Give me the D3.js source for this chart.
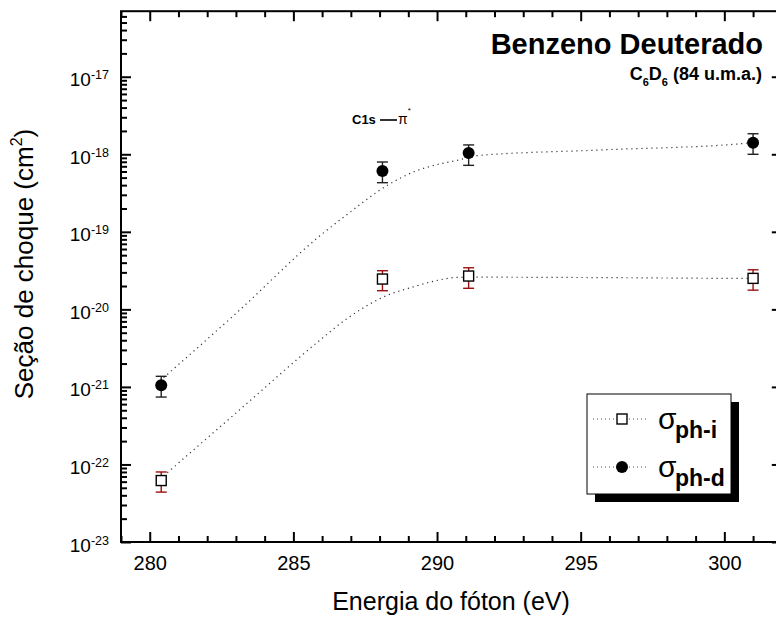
<!DOCTYPE html>
<html>
<head>
<meta charset="utf-8">
<script src="https://cdn.jsdelivr.net/npm/d3@7"></script>
<style>
  body { margin: 0; background: #fff; }
  svg { display: block; font-family: Arial, "Liberation Sans", sans-serif; }
</style>
</head>
<body>
<div id="chart"></div>
<script>
// photon energies (eV) of the measured points
let energy = [280.4, 288.1, 291.1, 301.0];

// sigma ph-d (filled circles) with error bar ends
let phD   = [1.05e-21, 6.1e-19, 1.04e-18, 1.41e-18];
let phDLo = [7.4e-22, 4.3e-19, 7.2e-19, 1.0e-18];
let phDHi = [1.37e-21, 7.95e-19, 1.32e-18, 1.84e-18];

// sigma ph-i (open squares) with error bar ends
let phI   = [6.2e-23, 2.46e-20, 2.69e-20, 2.51e-20];
let phILo = [4.4e-23, 1.74e-20, 1.87e-20, 1.77e-20];
let phIHi = [8.0e-23, 3.15e-20, 3.44e-20, 3.24e-20];

// dotted fit curves
let fitX = [280.35, 283.13, 285.86, 286.8, 288.29, 289.2, 289.95, 290.75, 291.37, 295.66, 300.7, 301.0];
let fitD = [1.19e-21, 9.8e-21, 8.49e-20, 1.6e-19, 4.01e-19, 5.96e-19, 7.28e-19, 8.44e-19, 9.58e-19, 1.135e-18, 1.38e-18, 1.42e-18];
let fitI = [6.44e-23, 5.07e-22, 3.83e-21, 7.3e-21, 1.53e-20, 1.96e-20, 2.34e-20, 2.59e-20, 2.6e-20, 2.57e-20, 2.51e-20, 2.51e-20];

// ticks
let xMajor = [280, 285, 290, 295, 300];
let xMinor = d3.range(279, 303).filter(v => v % 5 !== 0);
let yExp = [-23, -22, -21, -20, -19, -18, -17];

let width = 776, height = 618;
let plotLeft = 121, plotRight = 781.8, plotTop = 11.2, plotBottom = 542;

let svg = d3.select("#chart").append("svg")
  .attr("width", width)
  .attr("height", height);

let x = d3.scaleLinear().domain([279, 302]).range([plotLeft, plotRight]);
let y = d3.scaleLog().domain([1e-23, 7e-17]).range([plotBottom, plotTop]);

// minor log ticks 2..9 per decade
let yMinor = [];
for (let e = -23; e <= -17; e++) {
  for (let m = 2; m <= 9; m++) {
    let v = m * Math.pow(10, e);
    if (v < 7e-17) yMinor.push(v);
  }
}

function styleAxis(g) {
  g.select(".domain").remove();
  g.selectAll(".tick line").attr("stroke", "#000").attr("stroke-width", 2);
}

// bottom + top axes, ticks pointing inward
svg.append("g").attr("transform", `translate(0,${plotBottom})`)
  .call(d3.axisBottom(x).tickValues(xMinor).tickSize(-6).tickFormat(""))
  .call(styleAxis);
let xAx = svg.append("g").attr("transform", `translate(0,${plotBottom})`)
  .call(d3.axisBottom(x).tickValues(xMajor).tickSize(-10).tickPadding(0).tickFormat(d3.format("d")))
  .call(styleAxis);
xAx.selectAll(".tick text")
  .attr("y", 28).attr("dy", null)
  .attr("font-size", 20).attr("fill", "#000")
  .attr("font-family", "Arial, 'Liberation Sans', sans-serif");

svg.append("g").attr("transform", `translate(0,${plotTop})`)
  .call(d3.axisTop(x).tickValues(xMinor).tickSize(-6).tickFormat(""))
  .call(styleAxis);
svg.append("g").attr("transform", `translate(0,${plotTop})`)
  .call(d3.axisTop(x).tickValues(xMajor).tickSize(-10).tickFormat(""))
  .call(styleAxis);

// left + right axes
svg.append("g").attr("transform", `translate(${plotLeft},0)`)
  .call(d3.axisLeft(y).tickValues(yMinor).tickSize(-6).tickFormat(""))
  .call(styleAxis);
let yAx = svg.append("g").attr("transform", `translate(${plotLeft},0)`)
  .call(d3.axisLeft(y).tickValues(yExp.map(e => Math.pow(10, e))).tickSize(-10).tickFormat(""))
  .call(styleAxis);
svg.append("g").attr("transform", `translate(${plotRight},0)`)
  .call(d3.axisRight(y).tickValues(yExp.map(e => Math.pow(10, e))).tickSize(-10).tickFormat(""))
  .call(styleAxis);

// y tick labels as 10 with superscript exponent
yAx.selectAll(".tick").each(function(d, i) {
  let t = d3.select(this).append("text")
    .attr("x", -12)
    .attr("y", 9)
    .attr("text-anchor", "end")
    .attr("fill", "#000")
    .attr("font-family", "Arial, 'Liberation Sans', sans-serif")
    .attr("font-size", 19);
  t.append("tspan").text("10");
  t.append("tspan").attr("font-size", 12.5).attr("dy", -7).text(yExp[i]);
});

// frame
svg.append("rect")
  .attr("x", plotLeft).attr("y", plotTop)
  .attr("width", plotRight - plotLeft).attr("height", plotBottom - plotTop)
  .attr("fill", "none").attr("stroke", "#000").attr("stroke-width", 2);

// fit lines
let fitLine = vals => d3.line()
  .x((d, i) => x(fitX[i]))
  .y((d, i) => y(vals[i]))
  .curve(d3.curveMonotoneX)(vals);

[fitD, fitI].forEach(function(vals) {
  svg.append("path")
    .attr("d", fitLine(vals))
    .attr("fill", "none")
    .attr("stroke", "#333")
    .attr("stroke-width", 1.2)
    .attr("stroke-dasharray", "1.2,3.8");
});

// error bars
function errorBars(lo, hi, color) {
  let g = svg.append("g").attr("stroke", color).attr("stroke-width", 1.4);
  energy.forEach(function(e, i) {
    g.append("line").attr("x1", x(e)).attr("x2", x(e)).attr("y1", y(lo[i])).attr("y2", y(hi[i]));
    g.append("line").attr("x1", x(e) - 5.5).attr("x2", x(e) + 5.5).attr("y1", y(lo[i])).attr("y2", y(lo[i]));
    g.append("line").attr("x1", x(e) - 5.5).attr("x2", x(e) + 5.5).attr("y1", y(hi[i])).attr("y2", y(hi[i]));
  });
}
errorBars(phILo, phIHi, "#9b1010");
errorBars(phDLo, phDHi, "#222");

// markers
svg.selectAll(".sq").data(phI).enter().append("rect")
  .attr("class", "sq")
  .attr("x", (d, i) => x(energy[i]) - 5)
  .attr("y", d => y(d) - 5)
  .attr("width", 10).attr("height", 10)
  .attr("fill", "#fff").attr("stroke", "#000").attr("stroke-width", 1.4);

svg.selectAll(".dot").data(phD).enter().append("circle")
  .attr("class", "dot")
  .attr("cx", (d, i) => x(energy[i]))
  .attr("cy", d => y(d))
  .attr("r", 6)
  .attr("fill", "#000");

// titles
svg.append("text")
  .attr("x", 451).attr("y", 610)
  .attr("text-anchor", "middle")
  .attr("font-size", 25)
  .text("Energia do fóton (eV)");

let yt = svg.append("text")
  .attr("transform", "translate(33,264) rotate(-90)")
  .attr("text-anchor", "middle")
  .attr("font-size", 26);
yt.append("tspan").text("Seção de choque (cm");
yt.append("tspan").attr("font-size", 16).attr("dy", -11).text("2");
yt.append("tspan").attr("dy", 11).text(")");

svg.append("text")
  .attr("x", 763).attr("y", 54)
  .attr("text-anchor", "end")
  .attr("font-size", 29).attr("font-weight", "bold")
  .text("Benzeno Deuterado");

let sub = svg.append("text")
  .attr("x", 762).attr("y", 80)
  .attr("text-anchor", "end")
  .attr("font-size", 18).attr("font-weight", "bold");
sub.append("tspan").text("C");
sub.append("tspan").attr("font-size", 11).attr("dy", 6).text("6");
sub.append("tspan").attr("dy", -6).text("D");
sub.append("tspan").attr("font-size", 11).attr("dy", 6).text("6");
sub.append("tspan").attr("dy", -6).text(" (84 u.m.a.)");

// transition label
svg.append("text")
  .attr("x", 352).attr("y", 124)
  .attr("font-size", 13).attr("font-weight", "bold")
  .text("C1s");
svg.append("line")
  .attr("x1", 380).attr("x2", 397).attr("y1", 120).attr("y2", 120)
  .attr("stroke", "#000").attr("stroke-width", 1.6);
let pi = svg.append("text")
  .attr("x", 398).attr("y", 124)
  .attr("font-size", 14);
pi.append("tspan").text("π");
pi.append("tspan").attr("font-size", 8).attr("dy", -11).text("*");

// legend with drop shadow
let lg = svg.append("g");
lg.append("rect").attr("x", 595).attr("y", 402).attr("width", 144).attr("height", 100).attr("fill", "#000");
lg.append("rect").attr("x", 587).attr("y", 394).attr("width", 144).attr("height", 100)
  .attr("fill", "#fff").attr("stroke", "#000").attr("stroke-width", 1);

let legendItems = [
  {label: "ph-i", cy: 419},
  {label: "ph-d", cy: 467}
];
legendItems.forEach(function(item, i) {
  lg.append("line")
    .attr("x1", 593).attr("x2", 648).attr("y1", item.cy).attr("y2", item.cy)
    .attr("stroke", "#555").attr("stroke-width", 1)
    .attr("stroke-dasharray", "1,3");
  if (i === 0) {
    lg.append("rect").attr("x", 617).attr("y", item.cy - 5).attr("width", 10).attr("height", 10)
      .attr("fill", "#fff").attr("stroke", "#000").attr("stroke-width", 1.4);
  } else {
    lg.append("circle").attr("cx", 622).attr("cy", item.cy).attr("r", 6).attr("fill", "#000");
  }
  lg.append("text").attr("x", 658).attr("y", item.cy + 10).attr("font-size", 30).text("σ");
  lg.append("text").attr("x", 675).attr("y", item.cy + 19)
    .attr("font-size", 23).attr("font-weight", "bold").text(item.label);
});
</script>
</body>
</html>
